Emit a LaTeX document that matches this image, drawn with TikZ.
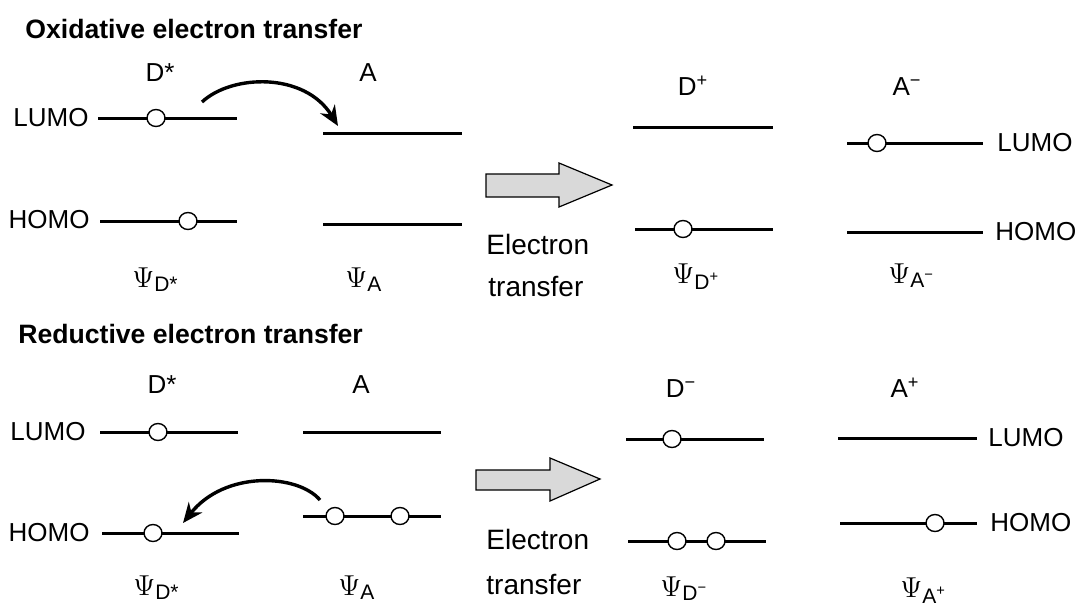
\documentclass[tikz,border=0pt]{standalone}
\usepackage{fontspec}
\setmainfont{Liberation Sans}
\usepackage{tikz}
\usetikzlibrary{arrows.meta,positioning,shapes.geometric}
\definecolor{ShiftGray}{HTML}{D9D9D9}
\newcommand{\wfn}[1]{$\Psi$\textsubscript{#1}}

\begin{document}
\begin{tikzpicture}[x=.5pt,y=-.5pt,
  level/.style={line width=1.5pt},
  elec/.style={draw,ellipse,fill=white,line width=.7pt,minimum width=9pt,minimum height=8.5pt,inner sep=0pt},
  lbl/.style={inner sep=0pt,font=\fontsize{13}{15}\selectfont},
  head/.style={inner sep=0pt,font=\fontsize{13.3}{16}\selectfont\bfseries},
  wf/.style={inner sep=0pt,font=\fontsize{15}{17}\selectfont},
  hop/.style={line width=1.7pt,-{Stealth[length=10pt,width=8.5pt]}},
  bigarrow/.style={draw,line width=.6pt,fill=ShiftGray}]
  \useasboundingbox (0,0) rectangle (1079,605);

  % oxidative electron transfer
  \node[head,anchor=base west] (ttlOx) at (25,38) {Oxidative electron transfer};
  \node[lbl,anchor=base] (dOx) at (160,81) {D*};
  \node[lbl,anchor=base] (aOx) at (368,81) {A};
  \node[lbl,anchor=base] (dPlus) at (693,95) {D\textsuperscript{+}};
  \node[lbl,anchor=base] (aMinus) at (907,95) {A\textsuperscript{−}};
  \node[lbl,anchor=east] (lumoOxL) at (89,118) {LUMO};
  \node[lbl,anchor=east] (homoOxL) at (90,220) {HOMO};
  \node[lbl,anchor=west] (lumoOxR) at (997,143) {LUMO};
  \node[lbl,anchor=west] (homoOxR) at (995,232) {HOMO};

  \draw[level] (98,118)--(237,118);
  \draw[level] (323,133)--(462,133);
  \draw[level] (100,221)--(237,221);
  \draw[level] (323,224)--(462,224);
  \draw[level] (633,127)--(773,127);
  \draw[level] (847,143)--(983,143);
  \draw[level] (635,229)--(773,229);
  \draw[level] (847,232)--(983,232);

  \node[elec] (eOx1) at (156,118) {};
  \node[elec] (eOx2) at (188,221) {};
  \node[elec] (eOx3) at (683,229) {};
  \node[elec] (eOx4) at (877,143) {};

  \coordinate (hopOxA) at (202,102);
  \coordinate (hopOxB) at (338,126);
  \draw[hop] (hopOxA) .. controls (232,74) and (305,72) .. (hopOxB);

  \draw[bigarrow] (486,174)--(559,174)--(559,163)--(612,185)--(559,207)--(559,197)--(486,197)--cycle;
  \node[lbl,font=\fontsize{14}{16}\selectfont,anchor=base west] (elOx) at (486,254) {Electron};
  \node[lbl,font=\fontsize{14}{16}\selectfont,anchor=base west] (trOx) at (488,296) {transfer};

  \node[wf,anchor=base west] (wfDOx) at (132,287) {\wfn{D*}};
  \node[wf,anchor=base west] (wfAOx) at (345,287) {\wfn{A}};
  \node[wf,anchor=base west] (wfDPlus) at (672,283) {\wfn{D\textsuperscript{+}}};
  \node[wf,anchor=base west] (wfAMinus) at (888,283) {\wfn{A\textsuperscript{−}}};

  % reductive electron transfer
  \node[head,anchor=base west] (ttlRed) at (18,343) {Reductive electron transfer};
  \node[lbl,anchor=base] (dRed) at (162,393) {D*};
  \node[lbl,anchor=base] (aRed) at (361,393) {A};
  \node[lbl,anchor=base] (dMinus) at (681,397) {D\textsuperscript{−}};
  \node[lbl,anchor=base] (aPlus) at (905,397) {A\textsuperscript{+}};
  \node[lbl,anchor=east] (lumoRedL) at (86,432) {LUMO};
  \node[lbl,anchor=east] (homoRedL) at (90,533) {HOMO};
  \node[lbl,anchor=west] (lumoRedR) at (988,438) {LUMO};
  \node[lbl,anchor=west] (homoRedR) at (990,523) {HOMO};

  \draw[level] (100,432)--(238,432);
  \draw[level] (303,432)--(441,432);
  \draw[level] (102,533)--(239,533);
  \draw[level] (303,516)--(441,516);
  \draw[level] (626,439)--(764,439);
  \draw[level] (838,438)--(977,438);
  \draw[level] (628,541)--(766,541);
  \draw[level] (840,523)--(977,523);

  \node[elec] (eRed1) at (158,432) {};
  \node[elec] (eRed2) at (153,533) {};
  \node[elec] (eRed3) at (335,516) {};
  \node[elec] (eRed4) at (400,516) {};
  \node[elec] (eRed5) at (672,439) {};
  \node[elec] (eRed6) at (677,541) {};
  \node[elec] (eRed7) at (716,541) {};
  \node[elec] (eRed8) at (935,523) {};

  \coordinate (hopRedA) at (320,500);
  \coordinate (hopRedB) at (183,523);
  \draw[hop] (hopRedA) .. controls (298,474) and (225,470) .. (hopRedB);

  \draw[bigarrow] (476,470)--(550,470)--(550,458)--(600,479)--(550,501)--(550,490)--(476,490)--cycle;
  \node[lbl,font=\fontsize{14}{16}\selectfont,anchor=base west] (elRed) at (486,549) {Electron};
  \node[lbl,font=\fontsize{14}{16}\selectfont,anchor=base west] (trRed) at (486,594) {transfer};

  \node[wf,anchor=base west] (wfDRed) at (133,595) {\wfn{D*}};
  \node[wf,anchor=base west] (wfARed) at (338,595) {\wfn{A}};
  \node[wf,anchor=base west] (wfDMinus) at (660,596) {\wfn{D\textsuperscript{−}}};
  \node[wf,anchor=base west] (wfAPlus) at (900,597) {\wfn{A\textsuperscript{+}}};
\end{tikzpicture}
\end{document}
